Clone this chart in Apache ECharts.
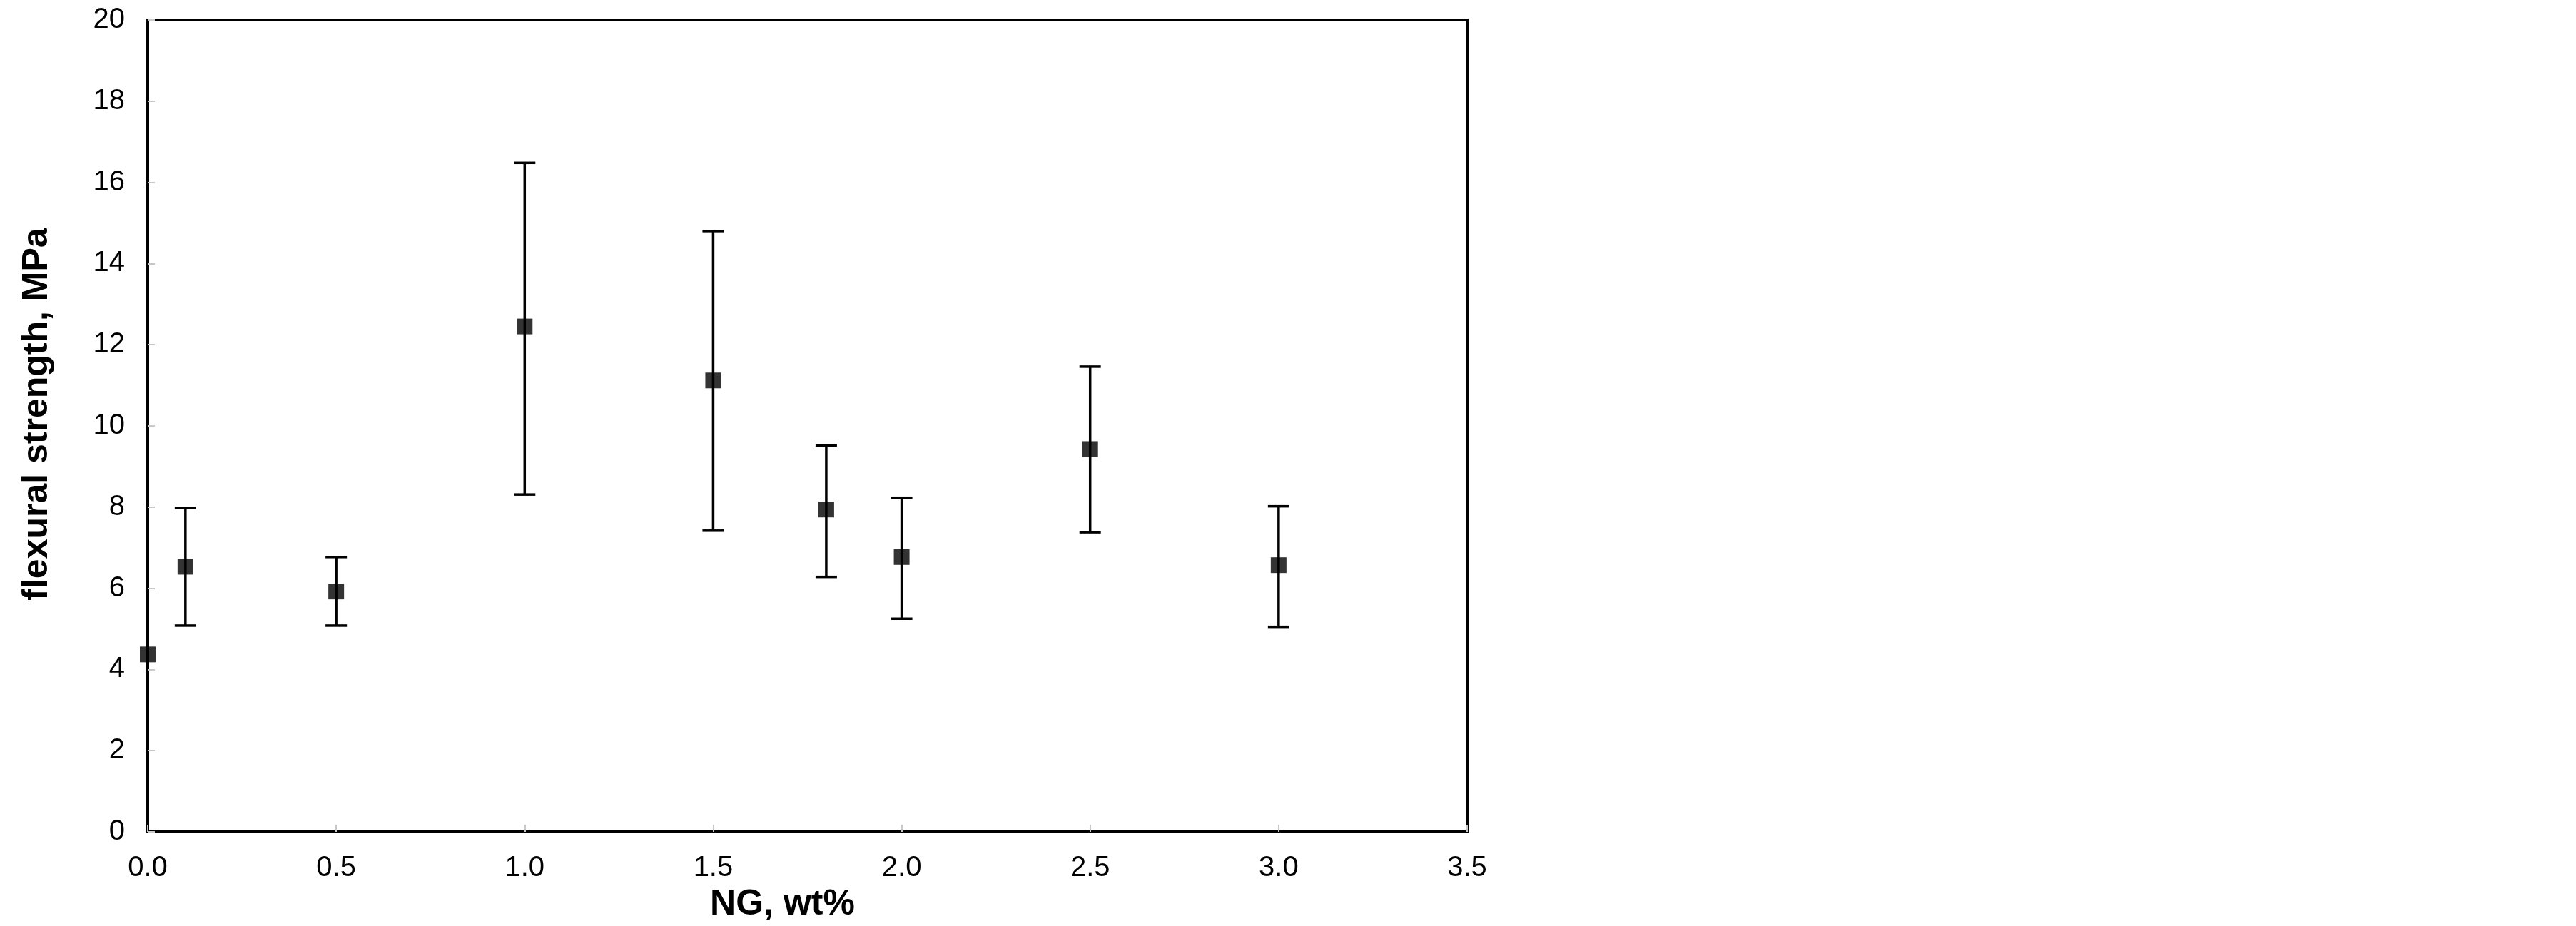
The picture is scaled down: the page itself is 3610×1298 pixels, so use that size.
<!DOCTYPE html>
<html>
<head>
<meta charset="utf-8">
<script src="https://cdn.jsdelivr.net/npm/echarts@6/dist/echarts.min.js"></script>
<style>
  html, body { margin: 0; padding: 0; background: #fff; }
  #chart { width: 3610px; height: 1298px; }
</style>
</head>
<body>
<div id="chart"></div>
<script>
// NG content, wt%
const ngContent = [0.0, 0.1, 0.5, 1.0, 1.5, 1.8, 2.0, 2.5, 3.0];
// mean flexural strength, MPa
const strength = [4.37, 6.53, 5.92, 12.45, 11.12, 7.94, 6.77, 9.43, 6.57];
// error bar ends
const errHigh = [4.37, 7.98, 6.77, 16.48, 14.8, 9.52, 8.23, 11.46, 8.02];
const errLow = [4.37, 5.08, 5.08, 8.31, 7.42, 6.28, 5.25, 7.38, 5.05];
// axis ticks
const xTicks = [0, 0.5, 1.0, 1.5, 2.0, 2.5, 3.0, 3.5];
const yTicks = [0, 2, 4, 6, 8, 10, 12, 14, 16, 18, 20];

const chart = echarts.init(document.getElementById("chart"));

const points = ngContent.map((x, i) => [x, strength[i]]);
const bars = ngContent.map((x, i) => [x, errLow[i], errHigh[i]]);

const labelFont = {
  fontFamily: "Liberation Sans, Arial, sans-serif",
  fontSize: 40,
  color: "#000"
};
const titleFont = {
  fontFamily: "Liberation Sans, Arial, sans-serif",
  fontWeight: "bold",
  fontSize: 50,
  color: "#000"
};

const option = {
  backgroundColor: "#fff",
  animation: false,
  grid: {
    left: 207,
    top: 28,
    width: 1849,
    height: 1142,
    show: true,
    borderColor: "#000",
    borderWidth: 4,
    backgroundColor: "#fff"
  },
  xAxis: {
    type: "value",
    min: xTicks[0],
    max: xTicks[xTicks.length - 1],
    interval: 0.5,
    name: "NG, wt%",
    nameLocation: "middle",
    nameGap: 77,
    nameTextStyle: Object.assign({ padding: [0, 70, 0, 0] }, titleFont),
    axisLine: { show: true, lineStyle: { color: "#000", width: 4 } },
    axisTick: { show: true, inside: true, length: 10, lineStyle: { color: "#c8c8c8", width: 2 } },
    axisLabel: Object.assign({ margin: 31, formatter: v => v.toFixed(1) }, labelFont),
    splitLine: { show: false }
  },
  yAxis: {
    type: "value",
    min: yTicks[0],
    max: yTicks[yTicks.length - 1],
    interval: 2,
    name: "flexural strength, MPa",
    nameLocation: "middle",
    nameGap: 130,
    nameTextStyle: Object.assign({ padding: [0, 0, 0, 33] }, titleFont),
    axisLine: { show: true, lineStyle: { color: "#000", width: 4 } },
    axisTick: { show: true, inside: true, length: 10, lineStyle: { color: "#c8c8c8", width: 2 } },
    axisLabel: Object.assign({ margin: 32 }, labelFont),
    splitLine: { show: false }
  },
  series: [
    {
      type: "custom",
      name: "error",
      clip: false,
      z: 3,
      data: bars,
      renderItem: function(params, api) {
        const x = api.value(0);
        const lo = api.coord([x, api.value(1)]);
        const hi = api.coord([x, api.value(2)]);
        if (Math.abs(lo[1] - hi[1]) < 1) return null;
        const half = 15;
        const style = { stroke: "#000", lineWidth: 3.5 };
        return {
          type: "group",
          children: [
            { type: "line", shape: { x1: hi[0], y1: hi[1], x2: lo[0], y2: lo[1] }, style: style },
            { type: "line", shape: { x1: hi[0] - half, y1: hi[1], x2: hi[0] + half, y2: hi[1] }, style: style },
            { type: "line", shape: { x1: lo[0] - half, y1: lo[1], x2: lo[0] + half, y2: lo[1] }, style: style }
          ]
        };
      }
    },
    {
      type: "scatter",
      name: "flexural strength",
      symbol: "rect",
      symbolSize: 22,
      clip: false,
      z: 4,
      itemStyle: { color: "#000" },
      data: points
    }
  ]
};

chart.setOption(option);
</script>
</body>
</html>
